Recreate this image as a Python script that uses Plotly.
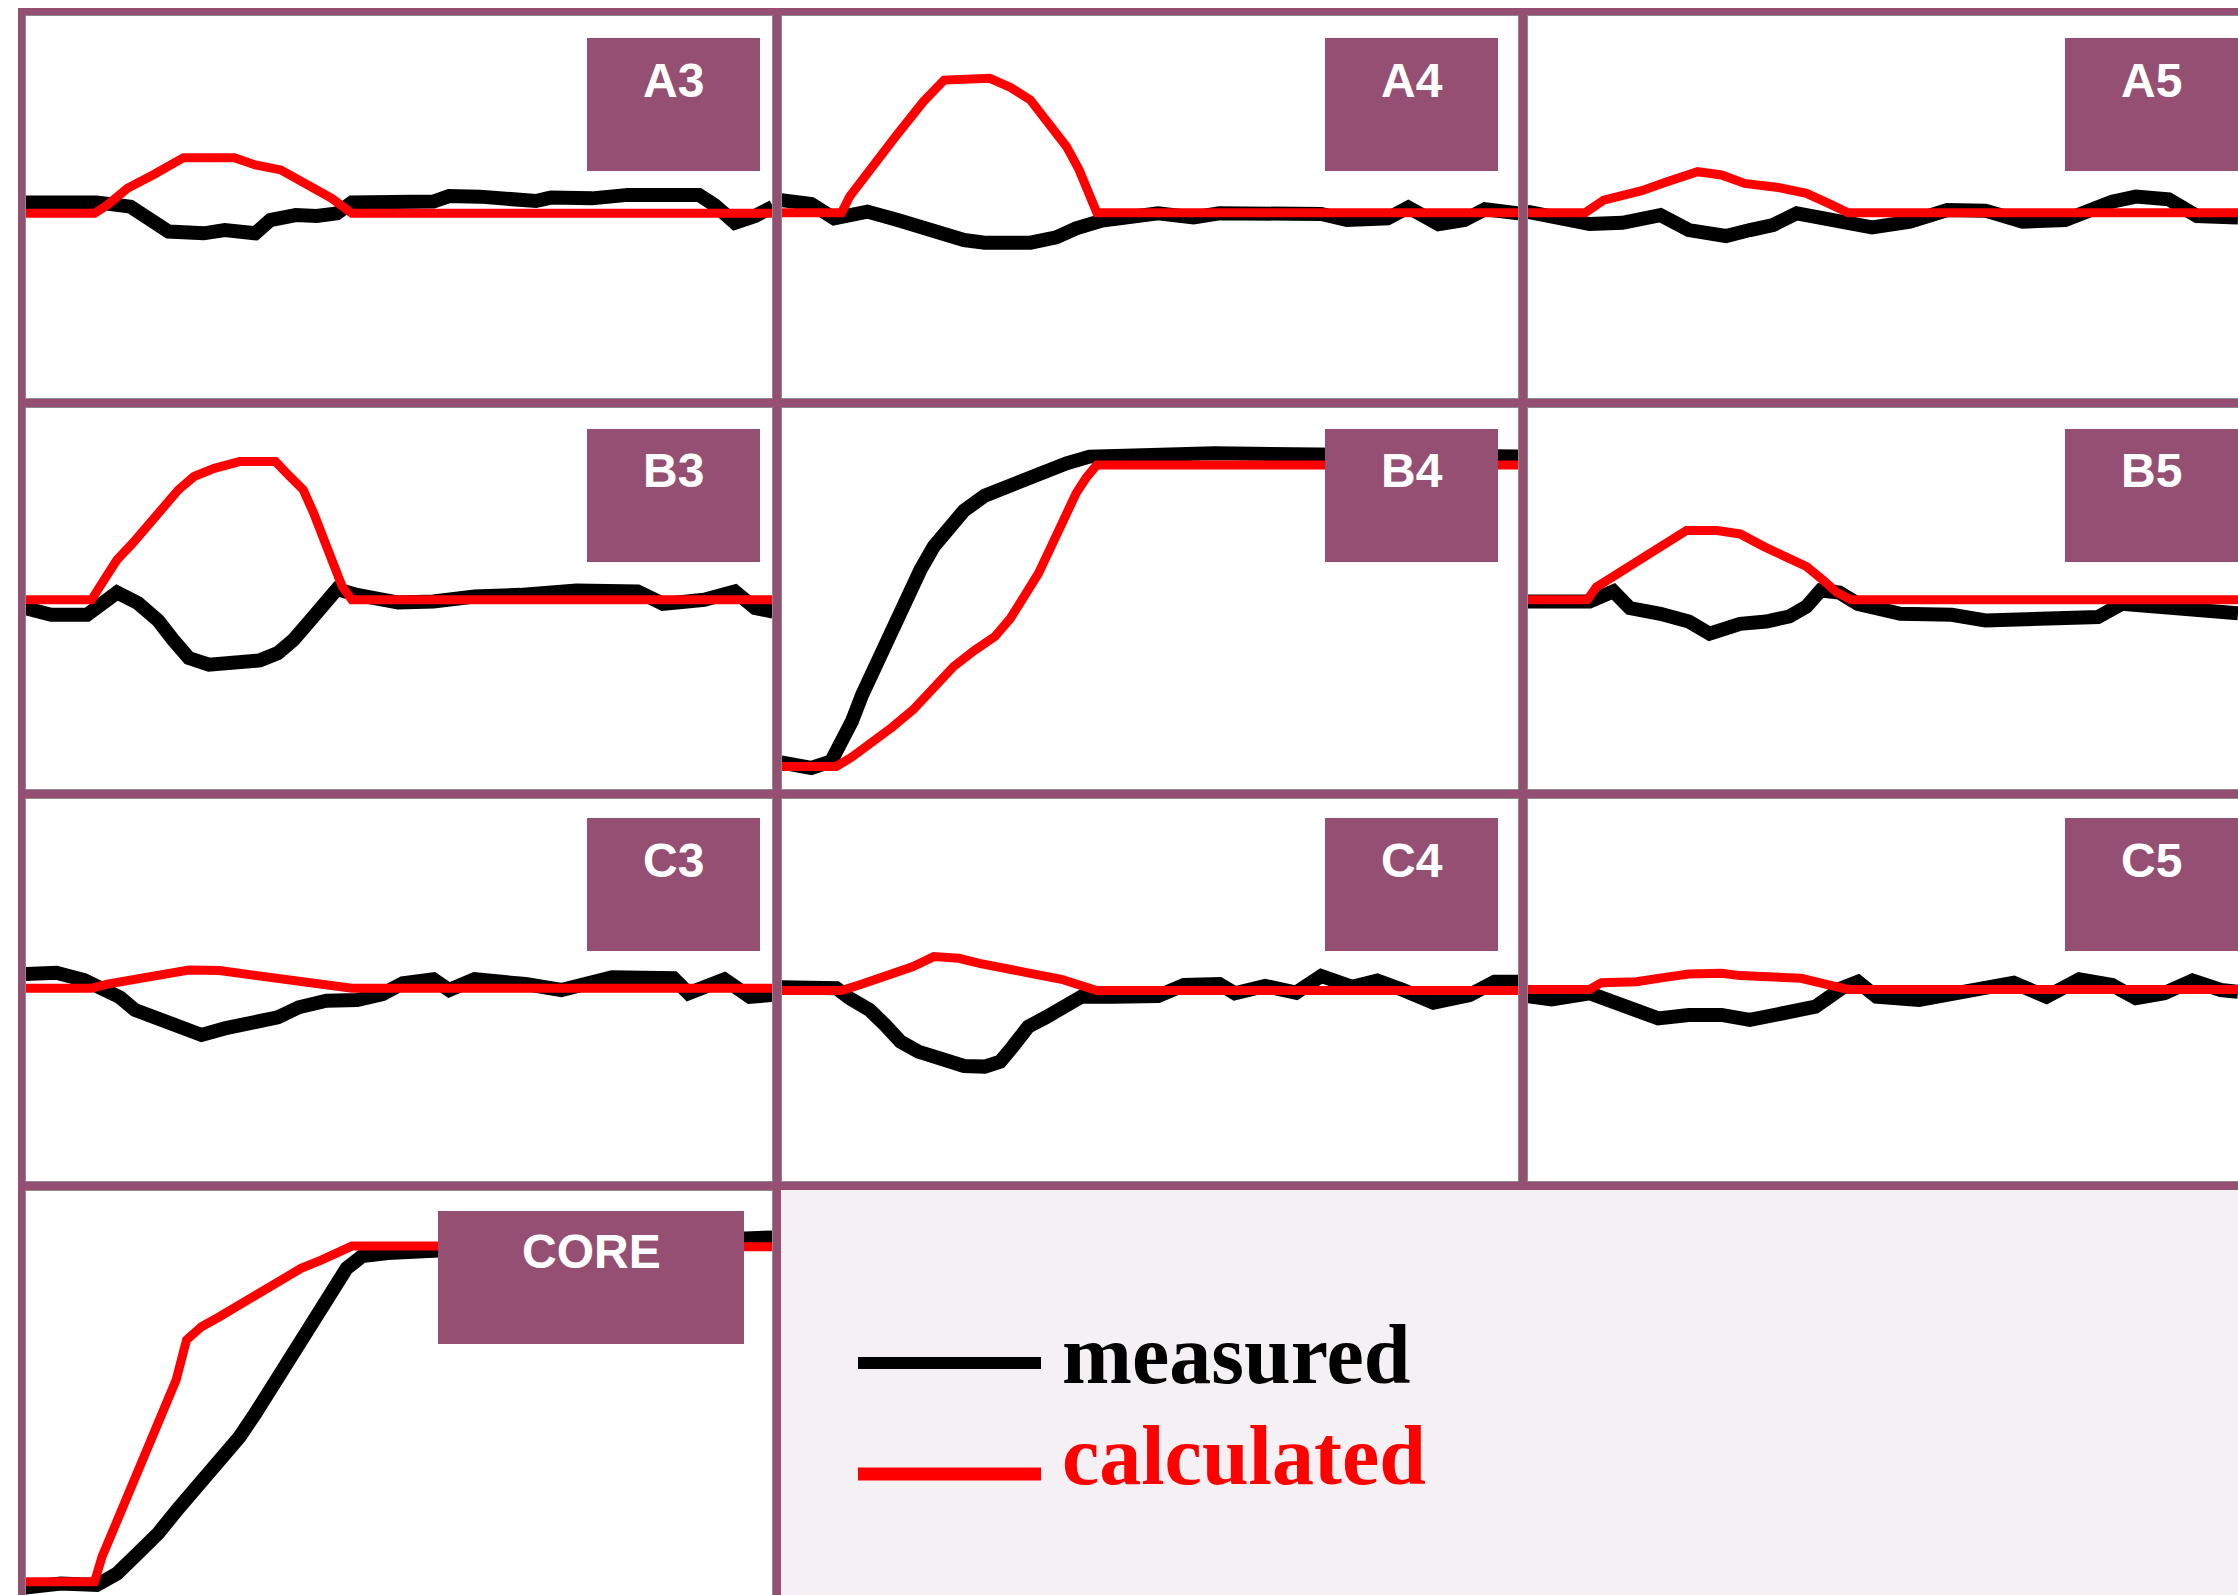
import plotly.graph_objects as go

FIG_W, FIG_H = 2238, 1595
PURPLE = "#954F72"
LEGEND_BG = "#F5F0F4"
GREY = "#8A8A8A"
BLACK = "#000000"
RED = "#FF0000"

# ---------------- data: time (% of window) vs normalized response ----------------
a3_meas_t = [0, 9.6, 14.1, 17.1, 19.2, 23.9, 26.7, 30.8, 32.8, 36.2, 39.0, 41.7, 43.7, 54.6, 56.7, 60.8, 68.3, 70.3, 75.8, 80.6, 90.1, 92.2, 94.9, 97.6, 100]
a3_meas_v = [0.024, 0.024, 0.002, -0.076, -0.128, -0.137, -0.12, -0.137, -0.068, -0.042, -0.047, -0.033, 0.024, 0.028, 0.057, 0.054, 0.031, 0.049, 0.045, 0.063, 0.063, 0.01, -0.082, -0.047, 0.002]
a3_calc_t = [0, 9.3, 11.0, 13.7, 17.1, 21.2, 28.0, 30.8, 34.2, 37.6, 41.0, 43.7, 100]
a3_calc_v = [-0.033, -0.033, 0.01, 0.097, 0.167, 0.257, 0.257, 0.219, 0.193, 0.123, 0.045, -0.033, -0.033]

a4_meas_t = [0, 4.1, 7.2, 11.7, 15.8, 20.0, 24.8, 27.6, 33.8, 37.3, 40.0, 43.5, 47.6, 51.1, 55.9, 59.4, 73.2, 76.7, 82.2, 85.0, 89.1, 92.6, 95.4, 100]
a4_meas_v = [0.036, 0.016, -0.059, -0.024, -0.068, -0.12, -0.172, -0.186, -0.186, -0.158, -0.111, -0.071, -0.05, -0.033, -0.054, -0.033, -0.036, -0.068, -0.059, -0.002, -0.089, -0.068, -0.012, -0.033]
a4_calc_t = [0, 8.2, 9.3, 12.0, 15.5, 19.3, 22.1, 28.3, 31.1, 33.8, 36.2, 38.7, 40.4, 42.1, 42.8, 100]
a4_calc_v = [-0.03, -0.03, 0.054, 0.193, 0.366, 0.549, 0.661, 0.67, 0.623, 0.557, 0.436, 0.314, 0.193, 0.054, -0.03, -0.03]

a5_meas_t = [0, 3.3, 8.4, 12.8, 17.9, 21.7, 26.7, 29.9, 33.0, 36.2, 40.0, 46.3, 51.4, 56.4, 61.5, 66.5, 72.2, 78.5, 81.7, 86.1, 89.9, 95.4]
a5_meas_v = [-0.024, -0.047, -0.089, -0.082, -0.042, -0.12, -0.151, -0.12, -0.094, -0.033, -0.059, -0.106, -0.076, -0.016, -0.019, -0.076, -0.068, 0.028, 0.054, 0.04, -0.047, -0.055]
a5_calc_t = [0, 7.8, 10.3, 15.4, 18.5, 22.9, 26.1, 29.2, 33.7, 37.5, 40.6, 43.1, 95.4]
a5_calc_v = [-0.03, -0.03, 0.036, 0.085, 0.127, 0.184, 0.167, 0.123, 0.102, 0.071, 0.016, -0.03, -0.03]

b3_meas_t = [0, 3.5, 8.3, 10.3, 12.3, 15.1, 17.8, 19.8, 21.9, 24.6, 28.0, 31.4, 33.8, 35.9, 37.9, 40.0, 41.7, 44.4, 49.9, 54.6, 60.1, 66.2, 73.7, 81.9, 85.3, 90.8, 94.9, 97.6, 100]
b3_meas_v = [-0.05, -0.085, -0.085, -0.016, 0.031, -0.024, -0.115, -0.216, -0.311, -0.346, -0.337, -0.323, -0.285, -0.216, -0.125, -0.033, 0.049, 0.019, -0.021, -0.016, 0.01, 0.019, 0.042, 0.037, -0.028, -0.007, 0.037, -0.05, -0.068]
b3_calc_t = [0, 8.9, 10.3, 12.3, 14.4, 16.4, 18.5, 20.5, 22.6, 25.3, 28.7, 33.5, 35.2, 37.2, 38.6, 40.0, 41.3, 42.4, 43.7, 100]
b3_calc_v = [-0.007, -0.007, 0.08, 0.202, 0.289, 0.376, 0.48, 0.567, 0.637, 0.68, 0.715, 0.715, 0.645, 0.567, 0.445, 0.306, 0.184, 0.063, -0.007, -0.007]

b4_meas_t = [0, 4.1, 6.8, 8.2, 9.6, 11.0, 12.7, 14.5, 15.8, 17.2, 18.9, 20.7, 22.4, 24.8, 27.6, 31.1, 34.5, 38.7, 41.8, 58.7, 100]
b4_meas_v = [-0.856, -0.885, -0.85, -0.755, -0.642, -0.503, -0.355, -0.207, -0.085, 0.028, 0.15, 0.271, 0.358, 0.459, 0.537, 0.593, 0.654, 0.706, 0.741, 0.758, 0.741]
b4_calc_t = [0, 7.5, 9.6, 12.4, 15.1, 17.9, 20.7, 23.4, 26.2, 29.0, 31.1, 33.1, 34.9, 36.6, 38.3, 40.0, 41.4, 42.8, 100]
b4_calc_v = [-0.877, -0.877, -0.828, -0.755, -0.671, -0.581, -0.463, -0.355, -0.271, -0.198, -0.103, 0.01, 0.132, 0.271, 0.41, 0.55, 0.633, 0.697, 0.697]

b5_meas_t = [0, 8.4, 11.6, 13.8, 17.9, 21.7, 24.5, 26.1, 28.6, 32.1, 35.2, 37.5, 39.4, 41.9, 44.4, 50.1, 57.0, 61.5, 65.3, 70.9, 76.6, 79.8, 84.8, 91.2, 95.4]
b5_meas_v = [-0.016, -0.016, 0.037, -0.05, -0.08, -0.12, -0.184, -0.163, -0.132, -0.12, -0.094, -0.042, 0.042, 0.031, -0.028, -0.08, -0.085, -0.115, -0.115, -0.097, -0.097, -0.028, -0.042, -0.077, -0.077]
b5_calc_t = [0, 8.1, 9.3, 11.9, 14.4, 16.9, 19.1, 21.4, 25.5, 28.6, 31.8, 34.9, 37.5, 39.7, 41.6, 43.5, 95.4]
b5_calc_v = [-0.007, -0.007, 0.059, 0.123, 0.188, 0.254, 0.31, 0.355, 0.355, 0.337, 0.271, 0.216, 0.167, 0.097, 0.031, -0.007, -0.007]

c3_meas_t = [0, 4.2, 7.9, 10.3, 12.7, 14.7, 17.5, 21.2, 23.6, 26.7, 30.1, 33.8, 36.6, 40.3, 44.4, 47.8, 50.5, 54.6, 56.7, 60.1, 66.9, 71.7, 78.5, 86.7, 88.7, 93.5, 96.9, 100]
c3_meas_v = [0.083, 0.09, 0.052, 0.009, -0.038, -0.104, -0.148, -0.208, -0.234, -0.2, -0.165, -0.142, -0.09, -0.056, -0.052, -0.021, 0.035, 0.056, 0.0, 0.056, 0.031, 0.0, 0.066, 0.061, -0.017, 0.056, -0.035, -0.026]
c3_calc_t = [0, 8.9, 11.0, 14.4, 18.5, 21.9, 26.0, 30.8, 34.9, 39.0, 43.7, 100]
c3_calc_v = [0.009, 0.009, 0.031, 0.056, 0.078, 0.104, 0.101, 0.078, 0.061, 0.035, 0.009, 0.009]

c4_meas_t = [0, 7.5, 9.3, 12.0, 14.1, 16.2, 18.6, 21.4, 24.8, 27.6, 29.7, 31.4, 33.5, 35.9, 38.3, 40.7, 44.9, 51.1, 54.6, 59.4, 61.5, 65.6, 69.8, 73.2, 77.4, 80.8, 84.3, 88.4, 93.3, 96.7, 100]
c4_meas_v = [0.014, 0.009, -0.043, -0.104, -0.182, -0.269, -0.321, -0.356, -0.396, -0.399, -0.373, -0.295, -0.191, -0.142, -0.087, -0.035, -0.035, -0.031, 0.026, 0.031, -0.017, 0.021, -0.014, 0.073, 0.017, 0.049, 0.0, -0.066, -0.026, 0.043, 0.043]
c4_calc_t = [0, 8.2, 11.0, 15.1, 17.9, 20.7, 24.1, 26.9, 30.4, 33.8, 38.0, 40.7, 42.8, 100]
c4_calc_v = [-0.003, -0.003, 0.031, 0.078, 0.122, 0.174, 0.165, 0.139, 0.118, 0.087, 0.056, 0.017, -0.003, -0.003]

c5_meas_t = [0, 3.3, 8.4, 10.9, 13.8, 17.6, 21.7, 26.1, 29.9, 32.7, 35.9, 38.7, 40.6, 42.2, 44.4, 46.9, 52.6, 58.9, 65.3, 69.7, 74.1, 78.5, 81.7, 85.5, 89.3, 93.1, 95.4]
c5_meas_v = [-0.031, -0.049, -0.017, -0.052, -0.108, -0.148, -0.13, -0.13, -0.156, -0.13, -0.104, -0.087, -0.035, 0.009, 0.043, -0.035, -0.052, -0.009, 0.038, -0.035, 0.056, 0.026, -0.043, -0.017, 0.049, 0.0, -0.009]
c5_calc_t = [0, 8.4, 10.0, 14.7, 18.5, 21.7, 26.1, 28.6, 32.4, 36.8, 40.6, 43.1, 95.4]
c5_calc_v = [0.003, 0.003, 0.038, 0.043, 0.066, 0.083, 0.087, 0.075, 0.069, 0.061, 0.026, 0.003, 0.003]

core_meas_t = [0, 4.8, 9.6, 12.3, 15.1, 17.8, 20.5, 23.3, 26.0, 28.7, 30.8, 32.8, 34.9, 36.9, 39.0, 41.0, 43.0, 45.1, 48.5, 55.3, 96.9, 100]
core_meas_v = [-1.07, -1.049, -1.057, -0.997, -0.892, -0.788, -0.658, -0.536, -0.406, -0.285, -0.163, -0.042, 0.097, 0.219, 0.358, 0.479, 0.592, 0.656, 0.672, 0.685, 0.753, 0.753]
core_calc_t = [0, 9.3, 10.3, 12.0, 13.4, 15.1, 16.8, 18.5, 20.2, 21.6, 23.6, 26.0, 28.7, 31.4, 34.2, 36.9, 39.6, 41.7, 43.7, 55.3, 96.9, 100]
core_calc_v = [-1.04, -1.04, -0.91, -0.753, -0.632, -0.484, -0.319, -0.163, 0.01, 0.219, 0.288, 0.34, 0.401, 0.462, 0.531, 0.592, 0.635, 0.679, 0.708, 0.708, 0.705, 0.705]

panel_labels = ["A3", "A4", "A5", "B3", "B4", "B5", "C3", "C4", "C5", "CORE"]
legend_labels = ["measured", "calculated"]

# ---------------- layout geometry (page pixels) ----------------
cols_px = [(25, 773, 100.0, 1, 1), (781, 1519, 100.0, 1, 1), (1527, 2238, 95.4, 1, 0)]
rows_px = [(15, 399, -1.0, 1.0, 1, 1), (407, 790, -1.0, 1.0, 1, 1),
           (798, 1182, -1.0, 1.0, 1, 1), (1190, 1595, -1.109, 1.0, 1, 0)]

panels = [
    (a3_meas_t, a3_meas_v, a3_calc_t, a3_calc_v, 0, 0),
    (a4_meas_t, a4_meas_v, a4_calc_t, a4_calc_v, 1, 0),
    (a5_meas_t, a5_meas_v, a5_calc_t, a5_calc_v, 2, 0),
    (b3_meas_t, b3_meas_v, b3_calc_t, b3_calc_v, 0, 1),
    (b4_meas_t, b4_meas_v, b4_calc_t, b4_calc_v, 1, 1),
    (b5_meas_t, b5_meas_v, b5_calc_t, b5_calc_v, 2, 1),
    (c3_meas_t, c3_meas_v, c3_calc_t, c3_calc_v, 0, 2),
    (c4_meas_t, c4_meas_v, c4_calc_t, c4_calc_v, 1, 2),
    (c5_meas_t, c5_meas_v, c5_calc_t, c5_calc_v, 2, 2),
    (core_meas_t, core_meas_v, core_calc_t, core_calc_v, 0, 3),
]

box_x = [(587, 760), (1325, 1498), (2065, 2238)]
box_y = [(38, 171), (429, 562), (818, 951)]
text_y = [80, 471, 860]
core_box = (438, 744, 1211, 1344)
core_text = (591, 1251)


def px(xp):
    return xp / FIG_W


def py(yp):
    return 1 - yp / FIG_H


fig = go.Figure()
layout_axes = {}
for k, (mt, mv, ct, cv, ci, ri) in enumerate(panels):
    n = "" if k == 0 else str(k + 1)
    x0, x1, xmax, il, ir = cols_px[ci]
    y0, y1, ylo, yhi, it, ib = rows_px[ri]
    sx = xmax / (x1 - x0)
    sy = (yhi - ylo) / (y1 - y0)
    layout_axes["xaxis" + n] = dict(
        domain=[max(0, px(x0 + il)), min(1, px(x1 - ir))], range=[il * sx, xmax - ir * sx],
        anchor="y" + n, showgrid=False, zeroline=False, showticklabels=False,
        ticks="", showline=True, mirror=True, linecolor=GREY, linewidth=2, fixedrange=True)
    layout_axes["yaxis" + n] = dict(
        domain=[max(0, py(y1 - ib)), min(1, py(y0 + it))], range=[ylo + ib * sy, yhi - it * sy],
        anchor="x" + n, showgrid=False, zeroline=False, showticklabels=False,
        ticks="", showline=True, mirror=(ci != 2), linecolor=GREY, linewidth=2, fixedrange=True)
    fig.add_trace(go.Scatter(x=mt, y=mv, mode="lines", name=legend_labels[0],
                             line=dict(color=BLACK, width=14), xaxis="x" + n, yaxis="y" + n,
                             showlegend=False, hoverinfo="skip"))
    fig.add_trace(go.Scatter(x=ct, y=cv, mode="lines", name=legend_labels[1],
                             line=dict(color=RED, width=9), xaxis="x" + n, yaxis="y" + n,
                             showlegend=False, hoverinfo="skip"))

shapes = []


def rect(xa, xb, ya, yb, color, layer="above"):
    shapes.append(dict(type="rect", xref="paper", yref="paper",
                       x0=px(xa), x1=px(xb), y0=py(yb), y1=py(ya),
                       fillcolor=color, line=dict(width=0), layer=layer))


# legend background
rect(781, 2238, 1190, 1595, LEGEND_BG, layer="below")
# purple frame
rect(18, 2238, 8, 15, PURPLE)
rect(18, 25, 8, 1595, PURPLE)
rect(773, 781, 8, 1595, PURPLE)
rect(1519, 1527, 8, 1190, PURPLE)
for (a, b) in [(399, 407), (790, 798), (1182, 1190)]:
    rect(18, 2238, a, b, PURPLE)

annotations = []
label_font = dict(family="Liberation Sans, Arial, sans-serif", size=48, color="white")
for k, name in enumerate(panel_labels[:9]):
    ci, ri = k % 3, k // 3
    (bx0, bx1), (by0, by1) = box_x[ci], box_y[ri]
    rect(bx0, bx1, by0, by1, PURPLE)
    annotations.append(dict(text="<b>" + name + "</b>", xref="paper", yref="paper",
                            x=px((bx0 + bx1) / 2), y=py(text_y[ri]), xanchor="center",
                            yanchor="middle", showarrow=False, font=label_font))
rect(core_box[0], core_box[1], core_box[2], core_box[3], PURPLE)
annotations.append(dict(text="<b>" + panel_labels[9] + "</b>", xref="paper", yref="paper",
                        x=px(core_text[0]), y=py(core_text[1]), xanchor="center",
                        yanchor="middle", showarrow=False, font=label_font))

# manual legend
leg_rows = [(1363, 1354, BLACK, 12), (1474, 1455, RED, 13)]
for lab, (ly, ty, col, lw) in zip(legend_labels, leg_rows):
    shapes.append(dict(type="line", xref="paper", yref="paper",
                       x0=px(858), x1=px(1041), y0=py(ly), y1=py(ly),
                       line=dict(color=col, width=lw), layer="above"))
    annotations.append(dict(text="<b>" + lab + "</b>", xref="paper", yref="paper",
                            x=px(1060), y=py(ty), xanchor="left", yanchor="middle",
                            showarrow=False,
                            font=dict(family="Liberation Serif, Times New Roman, serif",
                                      size=84, color=col)))

fig.update_layout(
    width=FIG_W, height=FIG_H, margin=dict(l=0, r=0, t=0, b=0, pad=0),
    paper_bgcolor="white", plot_bgcolor="white", showlegend=False,
    shapes=shapes, annotations=annotations, **layout_axes)

fig.write_html("out.html", config={"displayModeBar": False},
               post_script="document.body.style.margin='0';document.body.style.overflow='hidden';")
